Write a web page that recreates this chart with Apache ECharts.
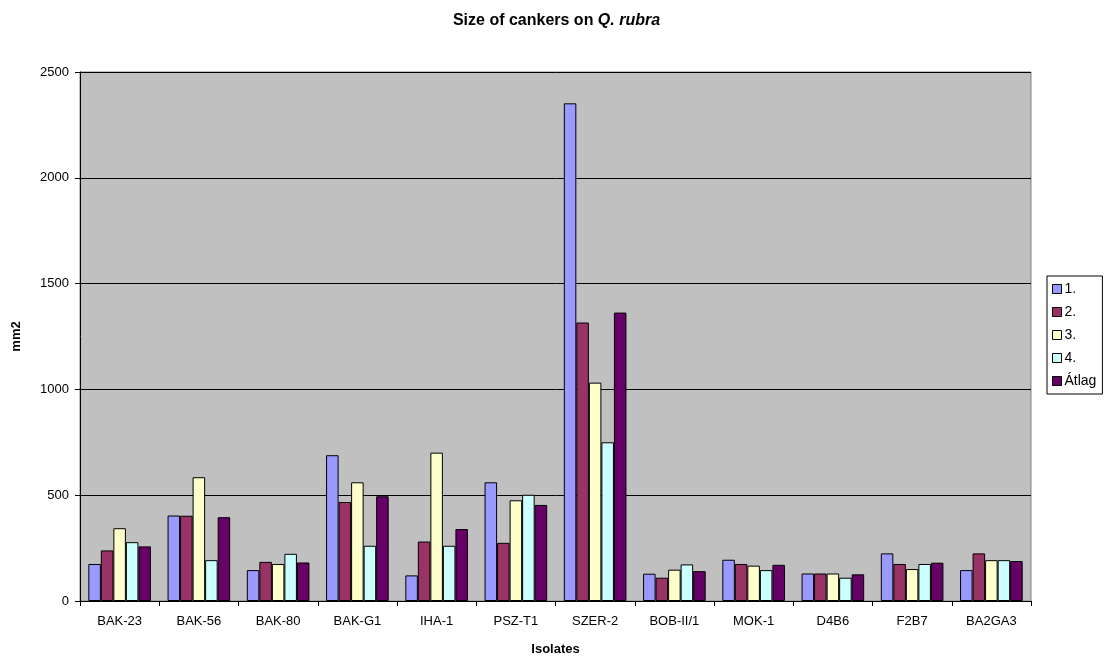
<!DOCTYPE html>
<html>
<head>
<meta charset="utf-8">
<script src="https://cdn.jsdelivr.net/npm/echarts@6/dist/echarts.min.js"></script>
<style>
  html, body { margin: 0; padding: 0; background: #fff; }
  #chart { width: 1113px; height: 664px; }
</style>
</head>
<body>
<div id="chart"></div>
<script>
// isolates on the x axis
let isolates = ["BAK-23", "BAK-56", "BAK-80", "BAK-G1", "IHA-1", "PSZ-T1", "SZER-2", "BOB-II/1", "MOK-1", "D4B6", "F2B7", "BA2GA3"]

// canker sizes (mm2)
let rep1 = [175, 404, 146, 689, 121, 561, 2352, 129, 195, 130, 225, 146]
let rep2 = [239, 403, 185, 468, 281, 275, 1316, 110, 175, 130, 175, 225]
let rep3 = [344, 585, 175, 561, 701, 476, 1032, 148, 167, 130, 151, 193]
let rep4 = [278, 193, 223, 261, 261, 502, 750, 173, 146, 110, 175, 193]
let atlag = [258, 396, 182, 495, 340, 454, 1363, 141, 171, 126, 181, 189]

let seriesNames = ["1.", "2.", "3.", "4.", "Átlag"]
let seriesColors = ["#9999FF", "#993366", "#FFFFCC", "#CCFFFF", "#660066"]

function initChart() {
  let allData = [rep1, rep2, rep3, rep4, atlag]
  let series = []
  for (let i = 0; i < allData.length; i++) {
    series.push({
      name: seriesNames[i],
      type: "bar",
      data: allData[i],
      barGap: "0%",
      barCategoryGap: "21%",
      itemStyle: {
        color: seriesColors[i],
        borderColor: "#000",
        borderWidth: 1
      }
    })
  }

  let myChart = echarts.init(document.getElementById("chart"))
  let option = {
    animation: false,
    textStyle: {
      fontFamily: "Liberation Sans, Arial, sans-serif"
    },
    title: {
      text: "{b|Size of cankers on }{bi|Q. rubra}",
      left: "center",
      top: 8,
      textStyle: {
        rich: {
          b: { fontWeight: "bold", fontSize: 16, color: "#000", fontFamily: "Liberation Sans" },
          bi: { fontWeight: "bold", fontStyle: "italic", fontSize: 16, color: "#000", fontFamily: "Liberation Sans" }
        }
      }
    },
    legend: {
      orient: "vertical",
      left: 1047,
      top: 276,
      padding: [6, 6, 6, 5],
      backgroundColor: "#fff",
      borderColor: "#000",
      borderWidth: 1,
      borderRadius: 0,
      itemWidth: 9,
      itemHeight: 9,
      itemGap: 9,
      icon: "rect",
      itemStyle: { borderColor: "#000", borderWidth: 1 },
      textStyle: { fontSize: 14, color: "#000", padding: [0, 0, 0, -2] },
      data: seriesNames
    },
    grid: {
      left: 80,
      right: 82,
      top: 72,
      bottom: 63,
      show: true,
      backgroundColor: "#C0C0C0",
      borderColor: "#808080",
      borderWidth: 1
    },
    xAxis: {
      type: "category",
      data: isolates,
      name: "Isolates",
      nameLocation: "middle",
      nameGap: 42,
      nameTextStyle: { fontWeight: "bold", fontSize: 13, color: "#000" },
      axisLine: { lineStyle: { color: "#000", width: 1 } },
      axisTick: { show: true, length: 5, lineStyle: { color: "#000" } },
      axisLabel: { fontSize: 13, color: "#000", margin: 14 }
    },
    yAxis: {
      type: "value",
      min: 0,
      max: 2500,
      interval: 500,
      name: "mm2",
      nameLocation: "middle",
      nameGap: 57,
      nameTextStyle: { fontWeight: "bold", fontSize: 13, color: "#000" },
      axisLine: { show: true, lineStyle: { color: "#000", width: 1 } },
      axisTick: { show: true, length: 5, lineStyle: { color: "#000" } },
      axisLabel: { fontSize: 13, color: "#000", margin: 11, formatter: function (v) { return String(v) } },
      splitLine: { show: true, lineStyle: { color: "#000", width: 1 } }
    },
    series: series
  }
  myChart.setOption(option)
}

initChart()
</script>
</body>
</html>
